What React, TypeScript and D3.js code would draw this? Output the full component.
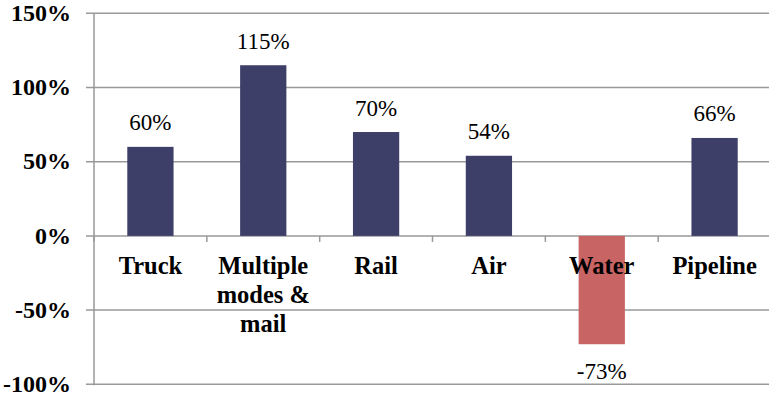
import React from "react";
import * as d3 from "d3";

// Change in freight by transport mode
const modes = ["Truck", "Multiple modes & mail", "Rail", "Air", "Water", "Pipeline"];
const modeLines = [["Truck"], ["Multiple", "modes &", "mail"], ["Rail"], ["Air"], ["Water"], ["Pipeline"]];
const changes = [60, 115, 70, 54, -73, 66];
const yTicks = [-100, -50, 0, 50, 100, 150];

const W = 769;
const H = 397;
const left = 94;
const right = 771;
const top = 13.3;
const bottom = 384.3;
const FONT = `"Liberation Serif"`;

export default function App() {
  const x = d3.scaleBand<string>().domain(modes).range([left, right]).paddingInner(0).paddingOuter(0);
  const y = d3.scaleLinear().domain([-100, 150]).range([bottom, top]);
  const bw = x.bandwidth() * 0.41;
  const grid = "#999999";
  const boundaries = modes.map((m) => x(m)!).concat([right]);

  return (
    <div style={{ position: "absolute", left: 0, top: 0 }}>
      <svg width={W} height={H} style={{ display: "block", background: "#fff" }}>
        {yTicks.map((t) => (
          <g key={t}>
            <line x1={left - 8} x2={W} y1={y(t)} y2={y(t)} stroke={grid} strokeWidth={1.5} />
            <text
              x={71}
              y={y(t)}
              dy="0.32em"
              textAnchor="end"
              style={{ fontFamily: FONT, fontWeight: "bold", fontSize: 24 }}
              fill="#000"
            >
              {`${t}%`}
            </text>
          </g>
        ))}
        <line x1={left} x2={left} y1={top} y2={bottom + 1} stroke={grid} strokeWidth={1.5} />
        {boundaries.map((b, i) => (
          <line key={i} x1={b} x2={b} y1={y(0)} y2={y(0) + 6} stroke={grid} strokeWidth={1.5} />
        ))}
        {modes.map((m, i) => {
          const v = changes[i];
          const cx = x(m)! + x.bandwidth() / 2;
          const y0 = y(0);
          const yv = y(v);
          return (
            <rect
              key={m}
              x={cx - bw / 2}
              y={Math.min(y0, yv)}
              width={bw}
              height={Math.abs(yv - y0)}
              fill={v < 0 ? "#C86464" : "#3D3F68"}
            />
          );
        })}
        {modes.map((m, i) => {
          const cx = x(m)! + x.bandwidth() / 2;
          return (
            <text
              key={m + "-lab"}
              textAnchor="middle"
              style={{ fontFamily: FONT, fontWeight: "bold", fontSize: 24.5 }}
              fill="#000"
            >
              {modeLines[i].map((ln, j) => (
                <tspan key={j} x={cx} y={274 + j * 29}>
                  {ln}
                </tspan>
              ))}
            </text>
          );
        })}
        {modes.map((m, i) => {
          const v = changes[i];
          const cx = x(m)! + x.bandwidth() / 2;
          const ty = v >= 0 ? y(v) - 16.5 : y(v) + 35;
          return (
            <text
              key={m + "-val"}
              x={cx}
              y={ty}
              textAnchor="middle"
              style={{ fontFamily: FONT, fontSize: 23 }}
              fill="#000"
            >
              {`${v}%`}
            </text>
          );
        })}
      </svg>
    </div>
  );
}
